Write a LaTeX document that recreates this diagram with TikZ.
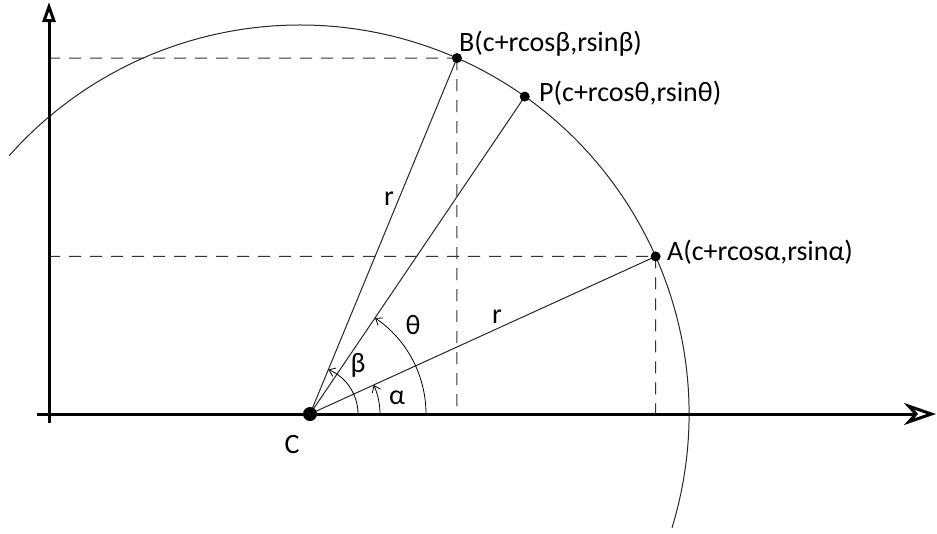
\documentclass[tikz,border=0pt]{standalone}
\usepackage{fontspec}
\setmainfont{Carlito}
\usetikzlibrary{arrows.meta}
\begin{document}
\begin{tikzpicture}[x=1pt,y=1pt,
  axis/.style={line width=3pt},
  thin/.style={line width=1pt, draw=black!85},
  guide/.style={line width=1pt, draw=black!80, dash pattern=on 12pt off 9pt},
  angarc/.style={line width=0.8pt, -{Straight Barb[length=6pt,width=9pt,line width=0.8pt]}},
  lbl/.style={font=\fontsize{28}{32}\selectfont, inner sep=0pt, text=black},
  dot/.style={circle, fill=black, inner sep=0pt, minimum size=#1},
]
\useasboundingbox (0,0) rectangle (937,-533);
% reference points
\coordinate (O) at (300,-414);
\coordinate (Cc) at (310,-414);
\path (O) ++(23.9:389) coordinate (A);
\path (O) ++(66.2:389) coordinate (B);
\path (O) ++(54.7:389) coordinate (P);
\coordinate (yB) at (48,-58);
\coordinate (yA) at (48,-256.4);
\coordinate (xB) at (456.9,-414);
\coordinate (xA) at (655.7,-414);
\coordinate (xl) at (37,-414);
\coordinate (xr) at (936,-414);
\coordinate (yb) at (49,-423);
\coordinate (yt) at (49,-2);
% circle arc
\draw[thin] (O) ++(-17:389) arc[start angle=-17, end angle=138.4, radius=389];
% guides
\draw[guide] (yB) -- (B);
\draw[guide] (yA) -- (A);
\draw[guide] (B) -- (xB);
\draw[guide] (A) -- (xA);
% radii
\draw[thin] (Cc) -- (A);
\draw[thin] (Cc) -- (B);
\draw[thin] (Cc) -- (P);
% angle arcs
\draw[angarc] (Cc) ++(0:70) arc[start angle=0, end angle=24.5, radius=70];
\draw[angarc] (Cc) ++(0:48) arc[start angle=0, end angle=67.6, radius=48];
\draw[angarc] (Cc) ++(0:116) arc[start angle=0, end angle=55.9, radius=116];
% axes
\draw[axis, -{Stealth[open, length=32pt, width=22pt, inset=10pt, line width=3pt]}] (xl) -- (xr);
\draw[axis, -{Triangle[open, length=20pt, width=13pt, line width=3pt]}] (yb) -- (yt);
% dots
\node[dot=14pt] (Cd) at (Cc) {};
\node[dot=10pt] (Ad) at (A) {};
\node[dot=10pt] (Bd) at (B) {};
\node[dot=10pt] (Pd) at (P) {};
% labels
\node[lbl, anchor=base west] (Bl) at (459,-51) {B(c+rcosβ,rsinβ)};
\node[lbl, anchor=base west] (Pl) at (539,-101.7) {P(c+rcosθ,rsinθ)};
\node[lbl, anchor=base west] (Al) at (667,-260) {A(c+rcosα,rsinα)};
\node[lbl, anchor=base] (Cl) at (292,-453) {C};
\node[lbl, anchor=base] (r1) at (389,-205) {r};
\node[lbl, anchor=base] (r2) at (497,-323) {r};
\node[lbl] (al) at (397,-398) {α};
\node[lbl] (be) at (358,-365) {β};
\node[lbl] (th) at (413,-325) {θ};
\end{tikzpicture}
\end{document}
